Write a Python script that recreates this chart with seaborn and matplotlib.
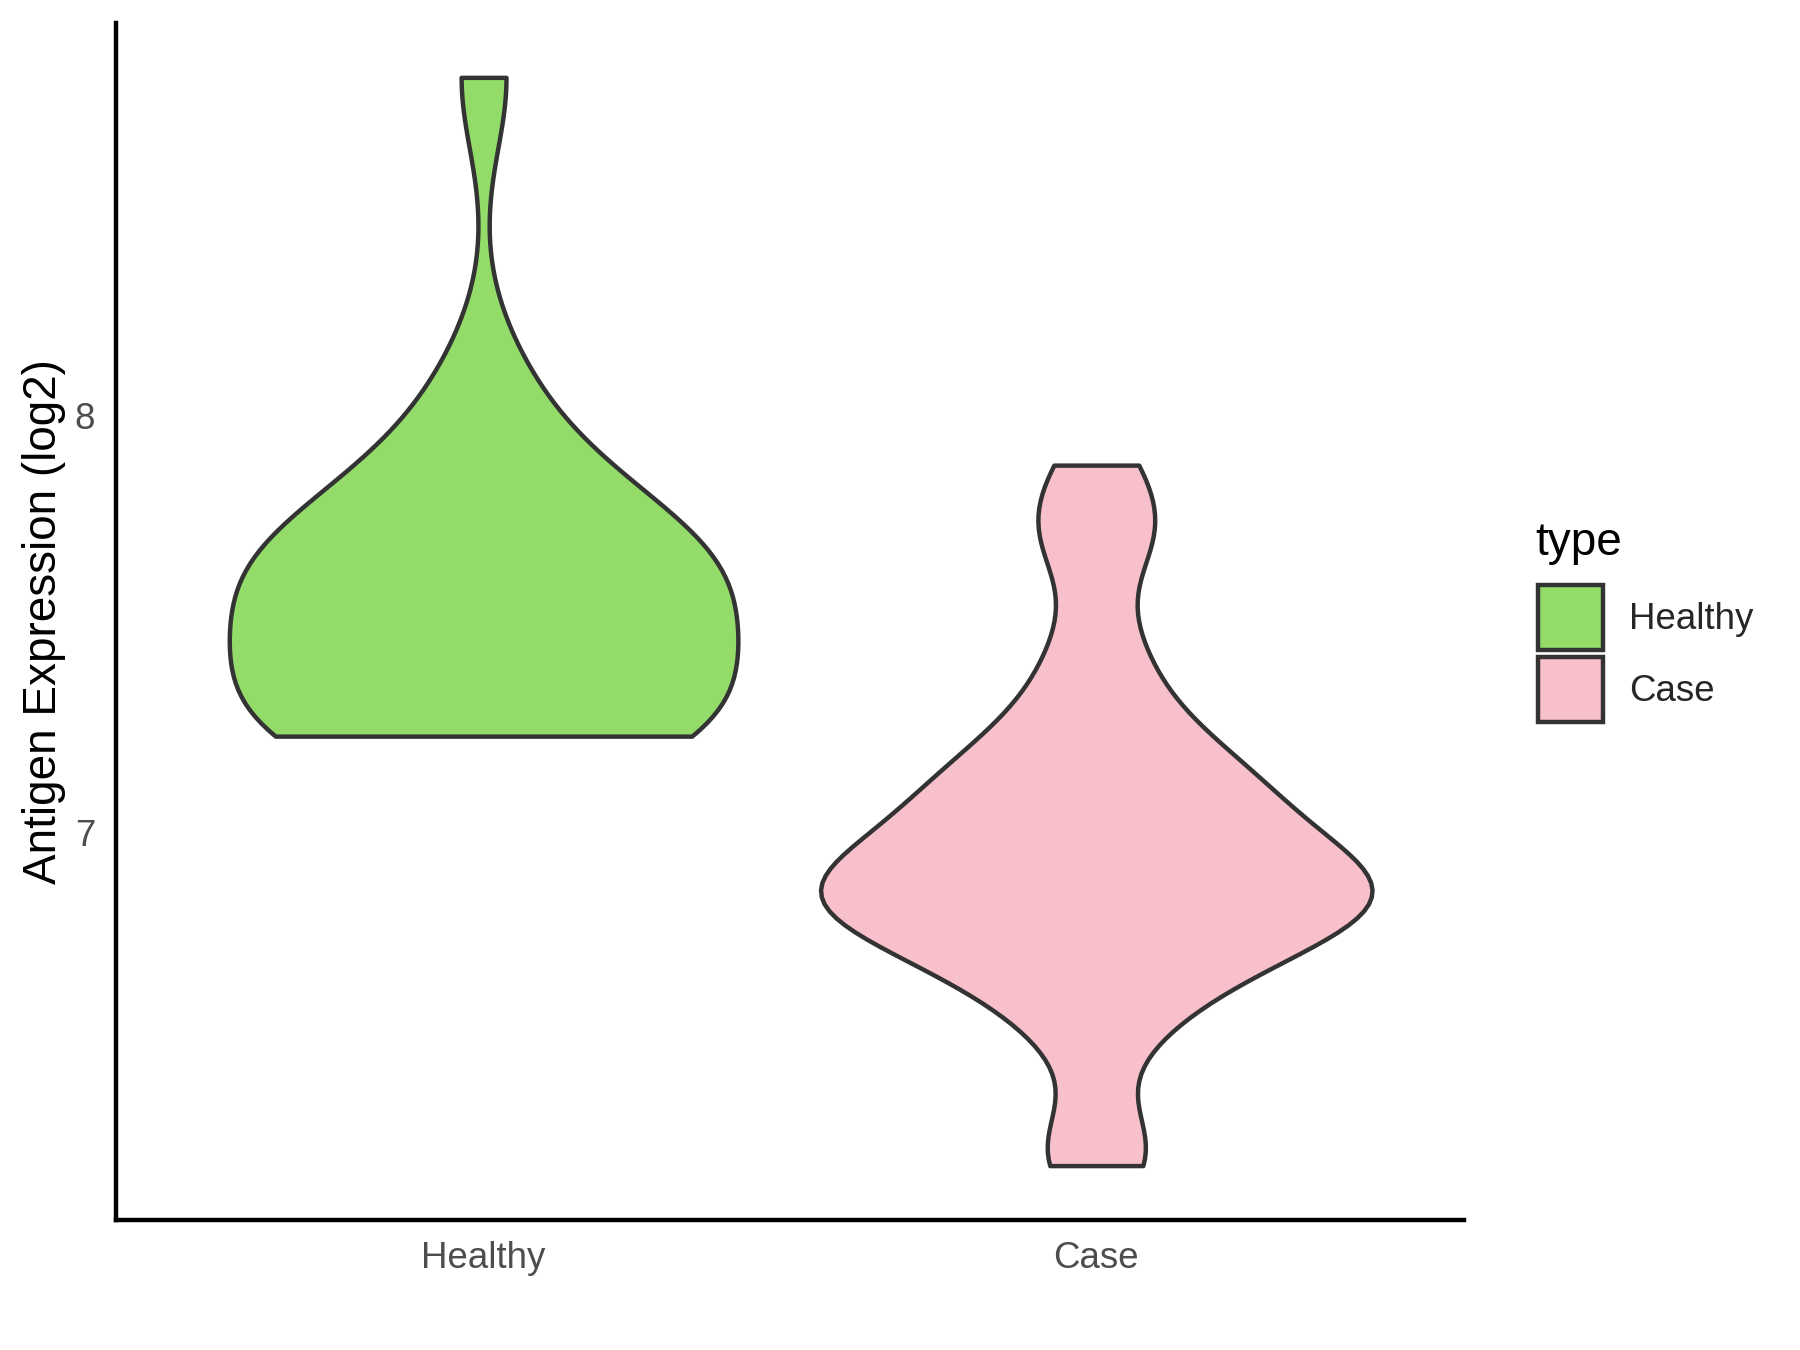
import pandas as pd
import seaborn as sns
import matplotlib.pyplot as plt
from matplotlib.patches import Patch

# groups and values
types = ["Healthy", "Case"]
healthy_values = [7.23, 7.23, 7.235, 7.24, 7.25, 7.27, 7.30, 7.36, 7.43, 7.49,
                  7.53, 7.56, 7.59, 7.62, 7.65, 7.68, 7.71, 7.75, 7.80, 7.93,
                  8.08, 8.81]
case_values = [6.20, 6.26, 6.50, 6.60, 6.65, 6.70, 6.74, 6.77, 6.79, 6.80,
               6.83, 6.85, 6.86, 6.89, 6.91, 6.92, 6.95, 6.99, 7.03, 7.08,
               7.10, 7.13, 7.18, 7.24, 7.33, 7.46, 7.68, 7.75, 7.88]

fill_colors = {"Healthy": "#93DC6A", "Case": "#F7C0CB"}
bw_factors = {"Healthy": 0.48, "Case": 0.29}
violin_widths = {"Healthy": 0.83, "Case": 0.9}

df = pd.DataFrame({
    "type": ["Healthy"] * len(healthy_values) + ["Case"] * len(case_values),
    "value": healthy_values + case_values,
})

sns.set_theme(style="white")
plt.rcParams["font.family"] = ["Liberation Sans", "DejaVu Sans"]

fig = plt.figure(figsize=(9, 6.75), dpi=200)
ax = fig.add_axes([0.0644, 0.0963, 0.7489, 0.8867])

edge = "#333333"
for t in types:
    sns.violinplot(data=df[df["type"] == t], x="type", y="value", order=types,
                   color=fill_colors[t], saturation=1, linecolor=edge,
                   linewidth=1.6, inner=None, cut=0, density_norm="area",
                   width=violin_widths[t], bw_method=bw_factors[t], ax=ax)

# ggplot-like expansion of the scales
lo, hi = df["value"].min(), df["value"].max()
pad = 0.05 * (hi - lo)
ax.set_ylim(lo - pad, hi + pad)
ax.set_xlim(-0.6, 1.6)
ax.set_yticks([7, 8])
ax.set_yticklabels(["7", "8"])

ax.set_xlabel("")
ax.set_ylabel("Antigen Expression (log2)", fontsize=16.5, color="black", labelpad=3.2)
ax.tick_params(axis="both", length=4.1, width=1.6, color=edge,
               labelsize=13.2, labelcolor="#4D4D4D", pad=3.3)
for side in ["top", "right"]:
    ax.spines[side].set_visible(False)
for side in ["left", "bottom"]:
    ax.spines[side].set_color("black")
    ax.spines[side].set_linewidth(1.6)
ax.grid(False)

# legend: keys plus a separate left-aligned title
handles = [Patch(facecolor=fill_colors[t], edgecolor=edge, linewidth=1.6) for t in types]
ax.legend(handles, types, loc="upper left",
          bbox_to_anchor=(0.8546, 0.5667), bbox_transform=fig.transFigure,
          frameon=False, fontsize=13.2,
          handlelength=1.77, handleheight=2.35, labelspacing=0.2,
          handletextpad=0.7, borderpad=0, borderaxespad=0)
fig.text(0.8528, 0.5889, "type", fontsize=16.5, color="black",
         ha="left", va="baseline")

fig.savefig("out.png", dpi=200)
